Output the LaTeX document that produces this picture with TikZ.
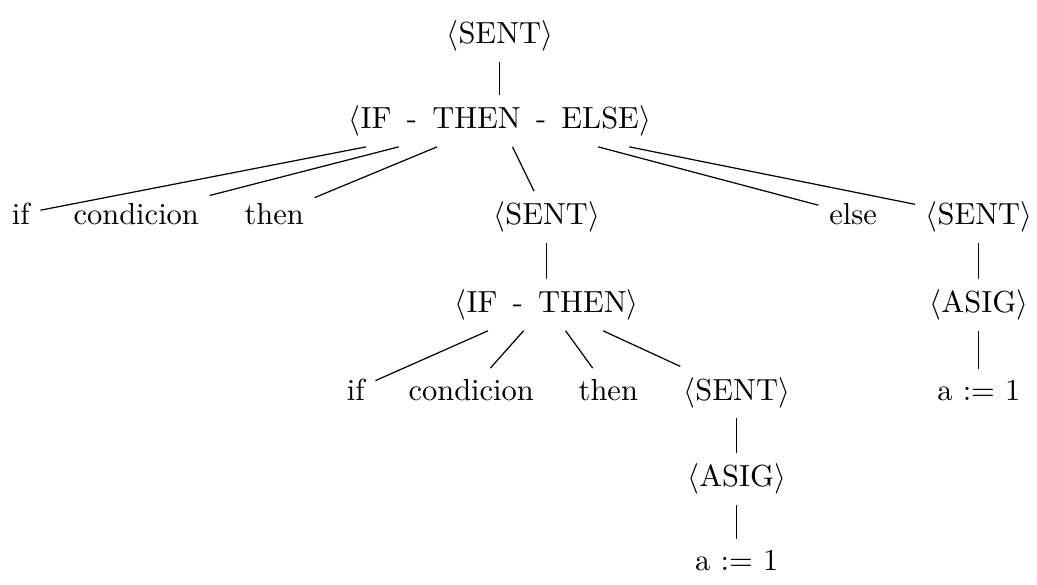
\documentclass[tikz,border=0pt]{standalone}
\newcommand{\nterm}[1]{$\langle$#1$\rangle$}
\newcommand{\dsh}{\hspace{0.5em}-\hspace{0.5em}}
\begin{document}
\begin{tikzpicture}[sym/.style={anchor=base}]
\useasboundingbox (0,0) rectangle (11.95,-6.74);
\node[sym] (sent) at (5.76,-0.50) {\nterm{SENT}};
\node[sym] (ite) at (5.76,-1.48) {\nterm{IF\dsh THEN\dsh ELSE}};

\node[sym] (if1) at (0.24,-2.59) {if};
\node[sym] (cond1) at (1.57,-2.59) {condicion};
\node[sym] (then1) at (3.16,-2.59) {then};
\node[sym] (sent2) at (6.30,-2.59) {\nterm{SENT}};
\node[sym] (else) at (9.83,-2.59) {else};
\node[sym] (sent3) at (11.28,-2.59) {\nterm{SENT}};

\node[sym] (it) at (6.30,-3.60) {\nterm{IF\dsh THEN}};
\node[sym] (asig3) at (11.28,-3.60) {\nterm{ASIG}};

\node[sym] (if2) at (4.10,-4.61) {if};
\node[sym] (cond2) at (5.43,-4.61) {condicion};
\node[sym] (then2) at (7.01,-4.61) {then};
\node[sym] (sent4) at (8.49,-4.61) {\nterm{SENT}};
\node[sym] (assign3) at (11.28,-4.61) {a := 1};

\node[sym] (asig4) at (8.49,-5.61) {\nterm{ASIG}};
\node[sym] (assign4) at (8.49,-6.57) {a := 1};

\draw (sent) -- (ite);
\draw (ite) -- (if1);
\draw (ite) -- (cond1);
\draw (ite) -- (then1);
\draw (ite) -- (sent2);
\draw (ite) -- (else);
\draw (ite) -- (sent3);
\draw (sent2) -- (it);
\draw (it) -- (if2);
\draw (it) -- (cond2);
\draw (it) -- (then2);
\draw (it) -- (sent4);
\draw (sent4) -- (asig4);
\draw (asig4) -- (assign4);
\draw (sent3) -- (asig3);
\draw (asig3) -- (assign3);
\end{tikzpicture}
\end{document}
